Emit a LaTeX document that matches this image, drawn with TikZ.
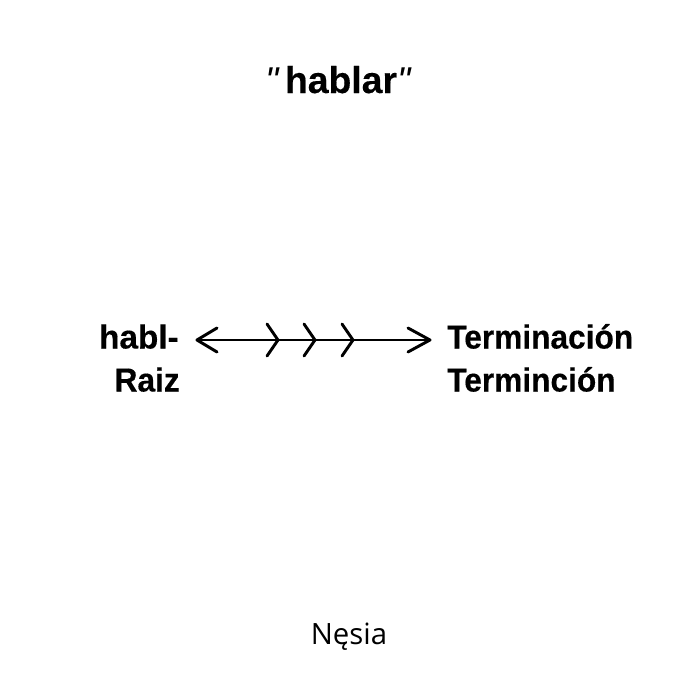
\documentclass[tikz,border=0pt]{standalone}
\usepackage{fontspec}
\setmainfont{Liberation Sans}
\newfontfamily\qfont{Liberation Sans}
\newfontfamily\lblfont[BoldFont={Liberation Sans Bold},BoldFeatures={FakeStretch=0.95,FakeBold=0.35}]{Liberation Sans}
\newfontfamily\hblfont[BoldFont={Liberation Sans Bold},BoldFeatures={FakeStretch=1.0,FakeBold=0.35}]{Liberation Sans}
\newfontfamily\ttlfont[BoldFont={Liberation Sans Bold},BoldFeatures={FakeBold=0.35}]{Liberation Sans}
\newfontfamily\ftrfont{Open Sans}
\tikzset{
  x=0.75pt,y=-0.75pt,
  boldlabel/.style={font=\lblfont\bfseries\fontsize{25}{30}\selectfont,inner sep=0pt},
  wideboldlabel/.style={font=\hblfont\bfseries\fontsize{25}{30}\selectfont,inner sep=0pt},
  titlelabel/.style={font=\ttlfont\bfseries\fontsize{28}{33}\selectfont,inner sep=0pt},
  footer/.style={font=\ftrfont\fontsize{22}{26}\selectfont,inner sep=0pt},
  conn/.style={draw=black,line width=2.2pt,line cap=round,line join=round},
  chevron/.style={conn}
}
\begin{document}
\begin{tikzpicture}
\useasboundingbox (0,0) rectangle (700,700);
\fill[white] (0,0) rectangle (700,700);
\node[titlelabel,anchor=base] (title) at (338,93) {{\qfont\itshape\mdseries "}\kern4.5pt hablar{\qfont\itshape\mdseries "}};
\node[wideboldlabel,anchor=base east] (habl) at (179,348.5) {habl-};
\node[boldlabel,anchor=base east] (raiz) at (180,391.5) {Raiz};
\node[boldlabel,anchor=base west] (term1) at (447,348.5) {Terminación};
\node[boldlabel,anchor=base west] (term2) at (447,391.5) {Terminción};
\node[footer,anchor=base] (nesia) at (349,644) {Nęsia};
\coordinate (aL) at (197,340);
\coordinate (aR) at (430,340);
\coordinate (c1) at (278,340);
\coordinate (c2) at (315,340);
\coordinate (c3) at (353,340);
\draw[conn] (aL) -- (aR);
\draw[chevron] ([shift={(20,-12)}]aL) -- (aL) -- ([shift={(20,12)}]aL);
\draw[chevron] ([shift={(-22,-12)}]aR) -- (aR) -- ([shift={(-22,12)}]aR);
\foreach \c in {c1,c2,c3}
  \draw[chevron] ([shift={(-11,-16)}]\c) -- (\c) -- ([shift={(-11,16)}]\c);
\end{tikzpicture}
\end{document}
